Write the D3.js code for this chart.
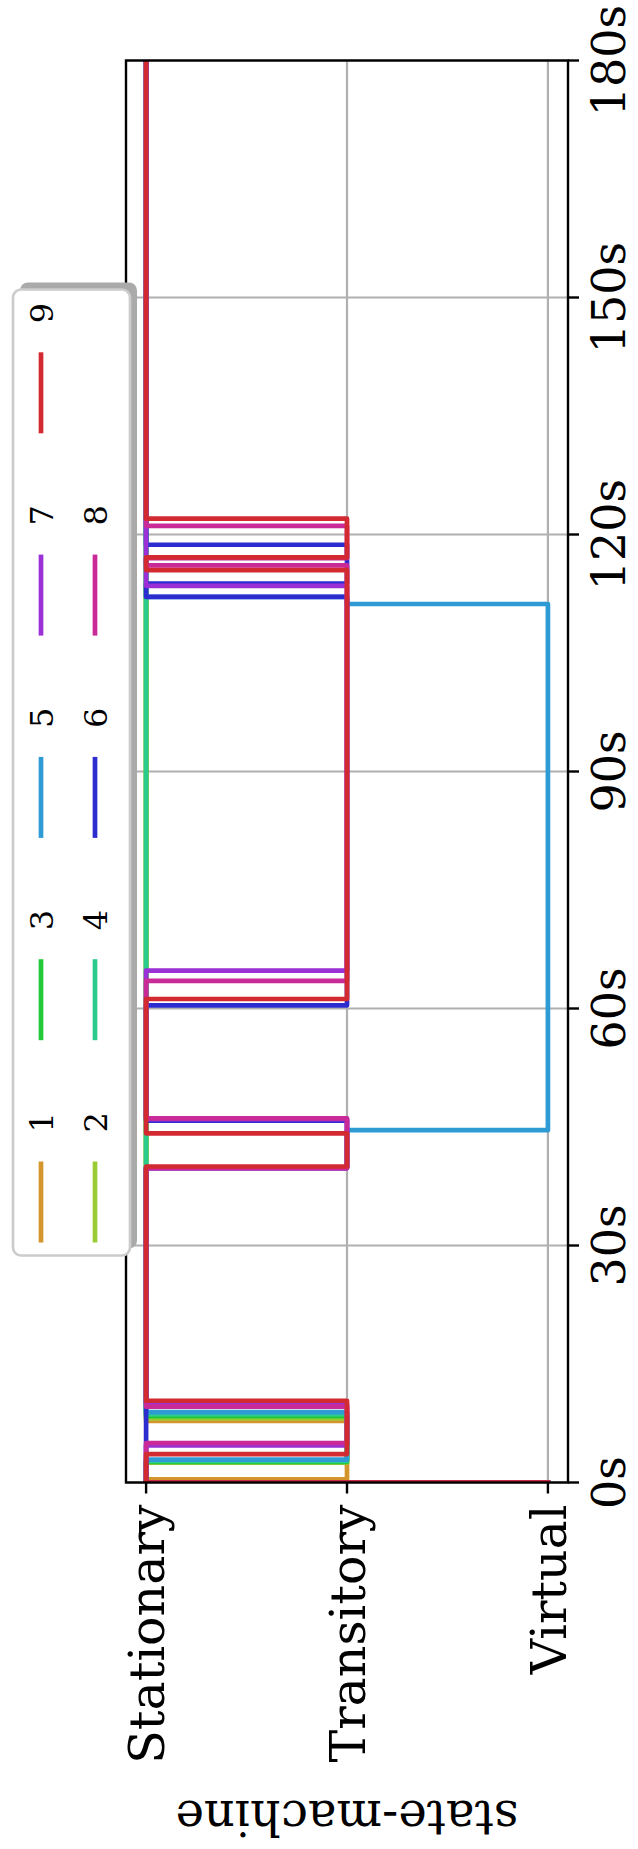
<!DOCTYPE html>
<html>
<head>
<meta charset="utf-8">
<script src="https://cdn.jsdelivr.net/npm/d3@7"></script>
<style>
  body { margin: 0; background: #fff; }
  svg text { font-family: "DejaVu Serif", "Liberation Serif", serif; }
</style>
</head>
<body>
<svg id="chart" width="638" height="1849"></svg>
<script>
// ---- data -------------------------------------------------------------
const states = ["Stationary", "Transitory", "Virtual"];
const timeTicks = [0, 30, 60, 90, 120, 150, 180];
const seriesNames = ["1", "2", "3", "4", "5", "6", "7", "8", "9"];
const palette = ["#d4952c", "#9acb33", "#24c93a", "#2bcb8c", "#2f9bd5",
                 "#2c2ccf", "#9a30d6", "#c92a98", "#d22a30"];

// state changes per agent: [time (s), new state]
const agent1 = [[0, "Virtual"], [0, "Stationary"], [0.4, "Transitory"], [7.8, "Stationary"]];
const agent2 = [[0, "Virtual"], [0, "Stationary"], [2.5, "Transitory"], [8.1, "Stationary"]];
const agent3 = [[0, "Virtual"], [0, "Stationary"], [2.6, "Transitory"], [8.4, "Stationary"]];
const agent4 = [[0, "Virtual"], [0, "Stationary"], [2.75, "Transitory"], [8.65, "Stationary"]];
const agent5 = [[0, "Virtual"], [0, "Stationary"], [2.9, "Transitory"], [8.9, "Stationary"],
                [39.9, "Transitory"], [44.6, "Virtual"], [111.2, "Transitory"], [112.1, "Stationary"]];
const agent6 = [[0, "Virtual"], [0, "Stationary"], [39.8, "Transitory"], [45.8, "Stationary"],
                [60.4, "Transitory"], [112.1, "Stationary"], [113.8, "Transitory"], [118.7, "Stationary"]];
const agent7 = [[0, "Virtual"], [0, "Stationary"], [4.7, "Transitory"], [9.9, "Stationary"],
                [39.8, "Transitory"], [46.0, "Stationary"], [64.8, "Transitory"], [113.5, "Stationary"]];
const agent8 = [[0, "Virtual"], [0, "Stationary"], [5.0, "Transitory"], [9.6, "Stationary"],
                [39.8, "Transitory"], [46.1, "Stationary"], [63.5, "Transitory"], [116.1, "Stationary"],
                [117.0, "Transitory"], [121.1, "Stationary"]];
const agent9 = [[0, "Virtual"], [0, "Stationary"], [3.6, "Transitory"], [10.35, "Stationary"],
                [40.0, "Transitory"], [44.2, "Stationary"], [61.2, "Transitory"], [115.5, "Stationary"],
                [117.1, "Transitory"], [122.0, "Stationary"]];
const agents = [agent1, agent2, agent3, agent4, agent5, agent6, agent7, agent8, agent9];
const tEnd = 180;

// ---- layout -----------------------------------------------------------
// The plot is laid out landscape (time along x) and turned a quarter turn
// counter-clockwise so that time runs upward on the page.
const W = 1422, H = 442;
const timeFont = 46, stateFont = 49, labelFont = 48, legendFont = 32;
const svg = d3.select("#chart");
const g = svg.append("g").attr("transform", "translate(126,1482.5) rotate(-90)");

const x = d3.scaleLinear().domain([0, tEnd]).range([0, W]);
const y = d3.scalePoint().domain(states).range([0, H]).padding(0.1);

g.append("clipPath").attr("id", "plotArea")
  .append("rect").attr("x", 0).attr("y", 0).attr("width", W).attr("height", H);

// grid
const grid = g.append("g").attr("stroke", "#b0b0b0").attr("stroke-width", 2.2);
grid.selectAll("line.gx").data(timeTicks).join("line").attr("class", "gx")
  .attr("x1", d => x(d)).attr("x2", d => x(d)).attr("y1", 0).attr("y2", H);
grid.selectAll("line.gy").data(states).join("line").attr("class", "gy")
  .attr("x1", 0).attr("x2", W).attr("y1", d => y(d)).attr("y2", d => y(d));

// step lines
const line = d3.line()
  .x(d => x(d[0]))
  .y(d => y(d[1]))
  .curve(d3.curveStepAfter);

g.append("g").attr("clip-path", "url(#plotArea)")
  .selectAll("path").data(agents).join("path")
  .attr("d", d => line(d.concat([[tEnd, d[d.length - 1][1]]])))
  .attr("fill", "none")
  .attr("stroke", (d, i) => palette[i])
  .attr("stroke-width", 4.7)
  .attr("stroke-linejoin", "round")
  .attr("stroke-linecap", "square");

// frame
g.append("rect").attr("x", 0).attr("y", 0).attr("width", W).attr("height", H)
  .attr("fill", "none").attr("stroke", "#000").attr("stroke-width", 2.4);

// time axis (bottom of the landscape frame)
const xAxis = g.append("g").attr("transform", `translate(0,${H})`);
xAxis.selectAll("line").data(timeTicks).join("line")
  .attr("x1", d => x(d)).attr("x2", d => x(d)).attr("y1", 0).attr("y2", 11)
  .attr("stroke", "#000").attr("stroke-width", 2.4);
xAxis.selectAll("text").data(timeTicks).join("text")
  .attr("x", d => x(d)).attr("y", 23).attr("dy", "0.73em")
  .attr("text-anchor", "middle").attr("font-size", timeFont)
  .text(d => d + "s");

// state axis (left of the landscape frame)
const yAxis = g.append("g");
yAxis.selectAll("line").data(states).join("line")
  .attr("x1", 0).attr("x2", -11).attr("y1", d => y(d)).attr("y2", d => y(d))
  .attr("stroke", "#000").attr("stroke-width", 2.4);
yAxis.selectAll("text").data(states).join("text")
  .attr("x", -22).attr("y", d => y(d)).attr("dy", "0.36em")
  .attr("text-anchor", "end").attr("font-size", stateFont)
  .text(d => d);

g.append("text")
  .attr("transform", `translate(-318,${H / 2}) rotate(-90)`)
  .attr("text-anchor", "middle").attr("font-size", labelFont)
  .text("state-machine");

// legend: five columns, two rows, filled column by column
const legend = g.append("g");
const lgX = 227, lgY = -113, lgW = 966, lgH = 117;
legend.append("rect").attr("x", lgX + 7).attr("y", lgY + 7)
  .attr("width", lgW).attr("height", lgH).attr("rx", 8).attr("fill", "#aaaaaa");
legend.append("rect").attr("x", lgX).attr("y", lgY)
  .attr("width", lgW).attr("height", lgH).attr("rx", 8)
  .attr("fill", "#fff").attr("stroke", "#cccccc").attr("stroke-width", 2.7);

const entry = legend.selectAll("g.entry").data(seriesNames).join("g").attr("class", "entry")
  .attr("transform", (d, i) => `translate(${240 + Math.floor(i / 2) * 202.3},${i % 2 === 0 ? -85 : -31})`);
entry.append("line").attr("x1", 0).attr("x2", 81).attr("y1", 0).attr("y2", 0)
  .attr("stroke", (d, i) => palette[i]).attr("stroke-width", 4.7);
entry.append("text").attr("x", 110).attr("y", 0).attr("dy", "0.36em")
  .attr("font-size", legendFont).text(d => d);
</script>
</body>
</html>
